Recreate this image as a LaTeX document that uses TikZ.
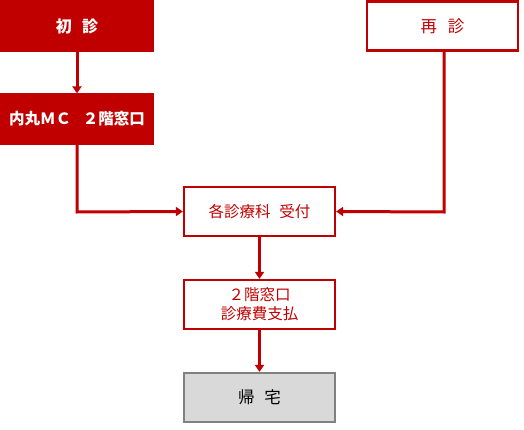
\documentclass[tikz,border=0pt]{standalone}
\usepackage{fontspec}
\newfontfamily\jp{Noto Sans CJK JP}
\usetikzlibrary{arrows.meta}
\definecolor{dred}{HTML}{C00000}
\definecolor{lgray}{HTML}{D9D9D9}
\definecolor{mgray}{HTML}{808080}
\begin{document}
\begin{tikzpicture}[x=1pt,y=-1pt,
  box/.style={draw=dred,line width=2.2pt,minimum width=151pt,minimum height=49pt,inner sep=0pt,font=\jp\fontsize{15.5}{19}\selectfont,align=center},
  fillbox/.style={box,fill=dred,text=white,font=\jp\bfseries\fontsize{15.5}{19}\selectfont},
  whitebox/.style={box,fill=white,text=dred},
  graybox/.style={box,draw=mgray,fill=lgray,text=black},
  big/.style={font=\jp\fontsize{16.5}{19}\selectfont},
  bigbold/.style={font=\jp\bfseries\fontsize{16}{19}\selectfont},
  conn/.style={draw=dred,line width=3pt,-{Triangle[length=7pt,width=9pt]}}]
\useasboundingbox (0,0) rectangle (524,430);
\node[fillbox,bigbold] (shoshin) at (77,26) {初\hspace{0.65em}診};
\node[fillbox] (madoguchi) at (77,119) {内丸ＭＣ\hspace{0.75em}２階窓口};
\node[whitebox,big] (saishin) at (442.5,26) {再\hspace{0.65em}診};
\node[whitebox] (uketsuke) at (259.5,211.5) {各診療科\hspace{0.55em}受付};
\node[whitebox] (shiharai) at (259.5,304.5) {２階窓口\\診療費支払};
\node[graybox,big] (kitaku) at (259.5,397.5) {帰\hspace{0.6em}宅};
\coordinate (c1) at (77,212);
\coordinate (c2) at (444,212);
\draw[conn] (shoshin.south) -- (madoguchi.north);
\draw[conn] (madoguchi.south) -- (c1) -- (uketsuke.west);
\draw[conn] (saishin.south -| c2) -- (c2) -- (uketsuke.east);
\draw[conn] (uketsuke.south) -- (shiharai.north);
\draw[conn] (shiharai.south) -- (kitaku.north);
\end{tikzpicture}
\end{document}
